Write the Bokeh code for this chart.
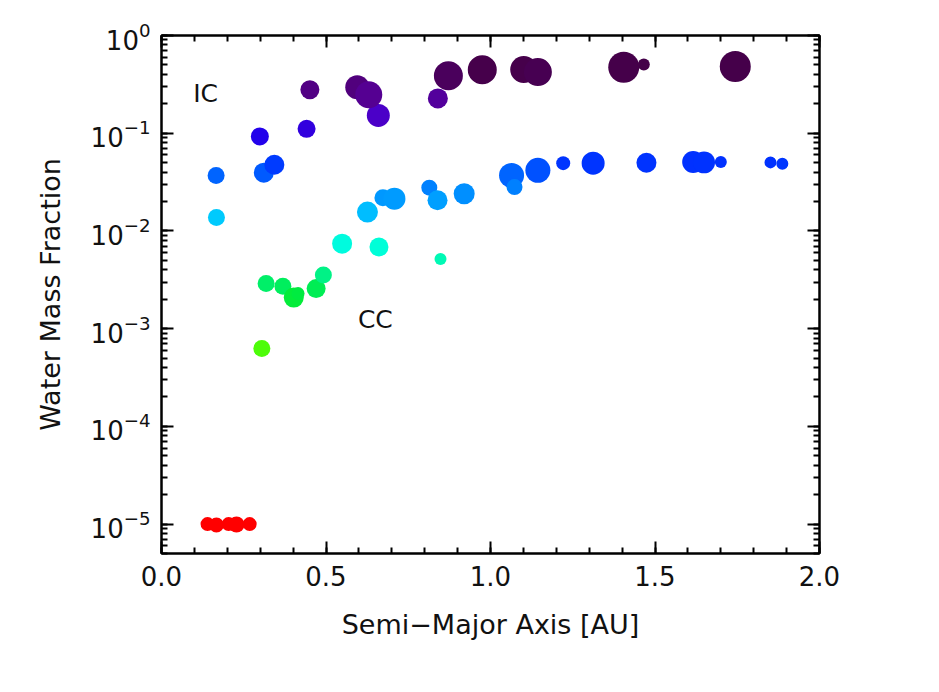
import numpy as np
from bokeh.plotting import figure
from bokeh.models import (Range1d, LogAxis, LinearAxis, SingleIntervalTicker, LogTicker,
                          NumeralTickFormatter, CustomJSTickFormatter, ColumnDataSource, Label)
from bokeh.embed import file_html
from bokeh.resources import INLINE

# ---------------- data ----------------
semi_major_axis = [
    0.140, 0.167, 0.204, 0.228, 0.268,
    0.305, 0.318, 0.369, 0.402, 0.415, 0.470, 0.492, 0.549, 0.661, 0.848,
    0.167, 0.626, 0.673, 0.708, 0.814, 0.839, 0.920, 1.064, 1.073, 1.144, 1.221,
    1.312, 1.474, 1.616, 1.649, 1.700, 1.851, 1.887,
    0.166, 0.311, 0.343, 0.299, 0.441,
    0.659, 0.451, 0.595, 0.630, 0.840, 0.872, 0.975, 1.101, 1.144, 1.405, 1.466, 1.744,
]
water_mass_fraction = [
    1.0e-5, 0.98e-5, 1.0e-5, 0.99e-5, 1.0e-5,
    6.25e-4, 2.89e-3, 2.71e-3, 2.08e-3, 2.29e-3, 2.57e-3, 3.54e-3, 7.41e-3, 6.86e-3, 5.16e-3,
    0.0137, 0.0156, 0.0219, 0.0214, 0.0277, 0.0206, 0.0240, 0.0370, 0.0281, 0.0417, 0.0494,
    0.0494, 0.0499, 0.0507, 0.0503, 0.0507, 0.0503, 0.0488,
    0.0370, 0.0395, 0.0476, 0.0927, 0.111,
    0.152, 0.279, 0.296, 0.248, 0.227, 0.387, 0.446, 0.449, 0.422, 0.474, 0.505, 0.482,
]
planet_size = [
    14, 15, 14, 16, 14,
    17, 17, 17, 20, 13, 19, 17, 20, 19, 12,
    17, 21, 17, 22, 16, 20, 21, 25, 16, 25, 14, 23, 20, 22, 22, 12, 12, 12,
    17, 20, 20, 18, 18,
    23, 19, 24, 27, 20, 29, 29, 27, 28, 31, 12, 31,
]
region_labels = ["IC", "CC"]
region_x = [0.134, 0.650]
region_y = [0.255, 0.00125]

# ---------------- colour scale (rainbow on log water fraction) ----------------
anchor_log = [-5.0, -3.3, -2.65, -2.5, -2.15, -1.85, -1.65, -1.43, -1.3, -1.03, -0.82, -0.6, -0.35, 0.0]
anchor_rgb = [(255, 0, 0), (90, 255, 0), (0, 235, 60), (0, 240, 120), (0, 255, 220),
              (0, 200, 255), (0, 150, 255), (0, 100, 255), (0, 50, 255), (35, 0, 235),
              (75, 0, 200), (85, 0, 145), (70, 0, 75), (60, 0, 60)]

def rainbow(w):
    lw = np.log10(np.asarray(w))
    ch = np.array(anchor_rgb, dtype=float)
    r = np.interp(lw, anchor_log, ch[:, 0])
    g = np.interp(lw, anchor_log, ch[:, 1])
    b = np.interp(lw, anchor_log, ch[:, 2])
    return ["#%02x%02x%02x" % (int(round(a)), int(round(bb)), int(round(c))) for a, bb, c in zip(r, g, b)]

src = ColumnDataSource(dict(a=semi_major_axis, w=water_mass_fraction,
                            s=planet_size, c=rainbow(water_mass_fraction)))

FONT = "DejaVu Sans"

p = figure(width=923, height=676, y_axis_type="log",
           x_range=Range1d(0, 2), y_range=Range1d(5e-6, 1.0),
           output_backend="svg", toolbar_location=None,
           min_border_left=161, min_border_top=35, min_border_right=104, min_border_bottom=123)
p.grid.visible = False
p.outline_line_color = "black"
p.outline_line_width = 2
p.background_fill_color = "white"
p.border_fill_color = "white"

p.scatter("a", "w", source=src, size="s", fill_color="c", line_color=None, marker="circle")

def style_axis(ax):
    ax.axis_line_width = 2
    ax.axis_line_color = "black"
    ax.major_tick_in = 12
    ax.major_tick_out = 0
    ax.minor_tick_in = 6
    ax.minor_tick_out = 0
    ax.major_tick_line_width = 2
    ax.minor_tick_line_width = 2
    ax.major_label_text_font = FONT
    ax.major_label_text_font_size = "26px"
    ax.major_label_text_color = "#111111"
    ax.axis_label_text_font = FONT
    ax.axis_label_text_font_size = "27px"
    ax.axis_label_text_font_style = "normal"
    ax.axis_label_text_color = "#111111"

xax = p.xaxis[0]
xax.ticker = SingleIntervalTicker(interval=0.5, num_minor_ticks=5)
xax.formatter = NumeralTickFormatter(format="0.0")
xax.axis_label = "Semi\u2212Major Axis [AU]"
style_axis(xax)
xax.major_label_standoff = 12
xax.axis_label_standoff = 20

yax = p.yaxis[0]
yax.ticker = LogTicker(desired_num_ticks=6, num_minor_ticks=10)
yax.axis_label = "Water Mass Fraction"
style_axis(yax)
yax.major_label_standoff = 11
yax.axis_label_standoff = 22

empty = CustomJSTickFormatter(code="return ''")
top = LinearAxis(ticker=SingleIntervalTicker(interval=0.5, num_minor_ticks=5), formatter=empty)
style_axis(top)
top.major_label_standoff = 0
p.add_layout(top, "above")
right = LogAxis(ticker=LogTicker(desired_num_ticks=6, num_minor_ticks=10), formatter=empty)
style_axis(right)
right.major_label_standoff = 0
p.add_layout(right, "right")

for t, x, y in zip(region_labels, region_x, region_y):
    p.add_layout(Label(x=x, y=y, text=t, text_align="center", text_baseline="middle",
                       text_font=FONT, text_font_size="25px", text_color="#111111"))

open("out.html", "w").write(file_html(p, INLINE))
